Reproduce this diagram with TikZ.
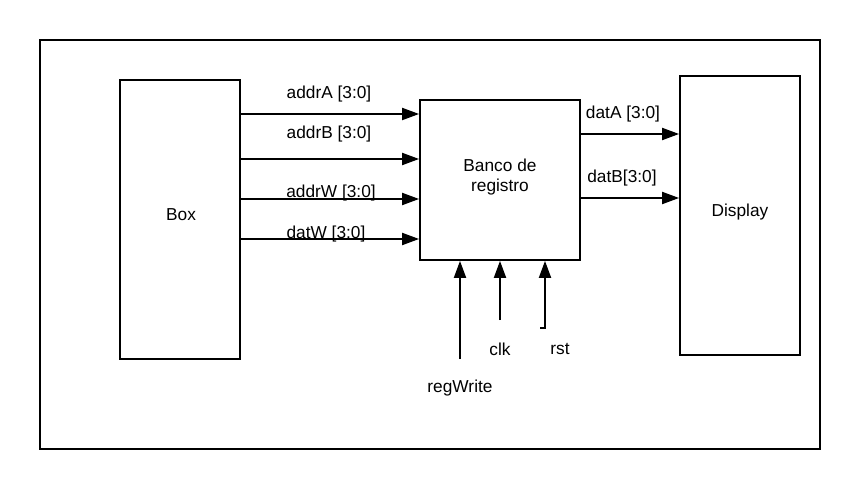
\documentclass[tikz,border=0pt]{standalone}
\usepackage{fontspec}
\setmainfont{Liberation Sans}
\usetikzlibrary{arrows.meta}
\begin{document}
\begin{tikzpicture}[x=1pt,y=-1pt,
  blk/.style={draw,line width=1.8pt,inner sep=0pt},
  sig/.style={line width=1.9pt,-{Triangle[length=17pt,width=12pt]}},
  lbl/.style={font=\fontsize{17.3}{20}\selectfont,inner sep=0pt}]
\useasboundingbox (0,0) rectangle (860,489);
\node[blk,minimum width=780pt,minimum height=409pt] (frame) at (430,244.5) {};
\node[blk,minimum width=120pt,minimum height=279pt] (box) at (180,219.5) {};
\node[lbl] (boxt) at (181,215) {Box};
\node[blk,minimum width=160pt,minimum height=160pt] (bank) at (500,180) {};
\node[lbl,align=center] (bankt) at (500,177) {Banco de\\registro};
\node[blk,minimum width=120pt,minimum height=279pt] (disp) at (740,215.5) {};
\node[lbl] (dispt) at (740,212) {Display};
% inputs
\draw[sig] (box.east |- 0,114) -- (bank.west |- 0,114);
\draw[sig] (box.east |- 0,159) -- (bank.west |- 0,159);
\draw[sig] (box.east |- 0,199) -- (bank.west |- 0,199);
\draw[sig] (box.east |- 0,239) -- (bank.west |- 0,239);
\node[lbl] (la) at (329,94) {addrA [3:0]};
\node[lbl] (lb) at (329,134) {addrB [3:0]};
\node[lbl] (lw) at (331,193) {addrW [3:0]};
\node[lbl] (ld) at (326,234) {datW [3:0]};
% outputs
\draw[sig] (bank.east |- 0,134) -- (disp.west |- 0,134);
\draw[sig] (bank.east |- 0,198) -- (disp.west |- 0,198);
\node[lbl] (lda) at (623,114) {datA [3:0]};
\node[lbl] (ldb) at (622,178) {datB[3:0]};
% control
\coordinate (rw) at (460,359);
\coordinate (ck) at (500,320);
\coordinate (rs0) at (540,328);
\coordinate (rs) at (545,328);
\draw[sig] (rw) -- (rw |- bank.south);
\draw[sig] (ck) -- (ck |- bank.south);
\draw[sig] (rs0) -- (rs) -- (rs |- bank.south);
\node[lbl] (lck) at (500,349) {clk};
\node[lbl] (lrs) at (560,349) {rst};
\node[lbl] (lrw) at (460,388) {regWrite};
\end{tikzpicture}
\end{document}
